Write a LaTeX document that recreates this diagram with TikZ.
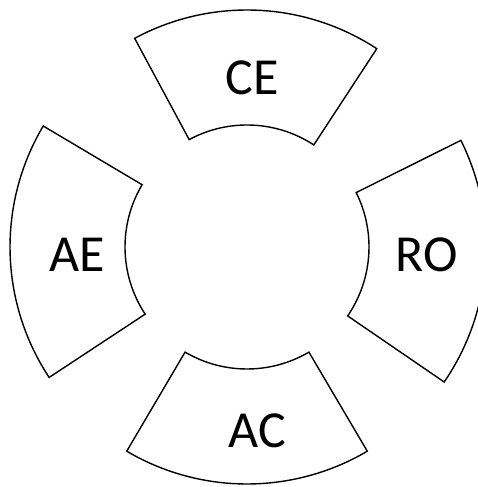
\documentclass[tikz,border=0pt]{standalone}
\usepackage{fontspec}
\setmainfont{Carlito}
\begin{document}
\begin{tikzpicture}[x=1pt,y=1pt,
  sector/.style={draw=black,line width=1.4pt,fill=white,line join=miter},
  lbl/.style={font=\fontsize{52}{52}\selectfont,inner sep=0pt}]
\useasboundingbox (0,0) rectangle (478,487);
\clip (0,0) rectangle (478,487);
\fill[white] (0,0) rectangle (478,487);
\coordinate (c) at (247,240);
\def\ri{122}
\def\ro{237}
% top CE
\draw[sector,shift={(c)}] (56.8:\ri) arc[start angle=56.8,end angle=118.3,radius=\ri] -- (118.3:\ro) arc[start angle=118.3,end angle=56.8,radius=\ro] -- cycle;
% left AE
\draw[sector,shift={(c)}] (149.3:\ri) arc[start angle=149.3,end angle=213.4,radius=\ri] -- (213.4:\ro) arc[start angle=213.4,end angle=149.3,radius=\ro] -- cycle;
% bottom AC
\draw[sector,shift={(c)}] (239.5:\ri) arc[start angle=239.5,end angle=300.5,radius=\ri] -- (300.5:\ro) arc[start angle=300.5,end angle=239.5,radius=\ro] -- cycle;
% right RO
\draw[sector,shift={(c)}] (-34.4:\ri) arc[start angle=-34.4,end angle=26.5,radius=\ri] -- (26.5:\ro+2) arc[start angle=26.5,end angle=-34.4,radius=\ro+2] -- cycle;
\node[lbl] (ce) at (252,409) {CE};
\node[lbl] (ae) at (77,232) {AE};
\node[lbl] (ro) at (427,232) {RO};
\node[lbl] (ac) at (257,56) {AC};
\end{tikzpicture}
\end{document}
